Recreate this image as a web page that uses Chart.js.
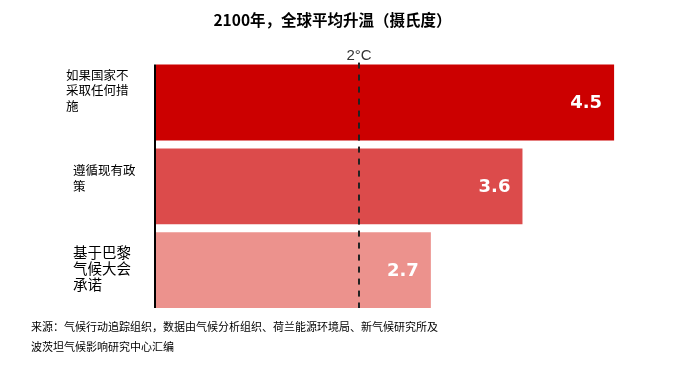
<!DOCTYPE html>
<html>
<head>
<meta charset="utf-8">
<script src="https://cdn.jsdelivr.net/npm/chart.js@4/dist/chart.umd.min.js"></script>
<style>
  html, body { margin: 0; padding: 0; background: #fff; }
  #wrap { width: 696px; height: 383px; position: relative; }
</style>
</head>
<body>
<div id="wrap"><canvas id="c" width="696" height="383"></canvas></div>
<script>
// ---- data ----
const categories = [
  ["如果国家不", "采取任何措", "施"],
  ["遵循现有政", "策"],
  ["基于巴黎", "气候大会", "承诺"]
];
const warming = [4.5, 3.6, 2.7];
const valueLabels = ["4.5", "3.6", "2.7"];
const barColors = ["#CC0000", "#DC4B4B", "#EC928D"];
const thresholdValue = 2;
const thresholdLabel = "2°C";
const titleText = "2100年，全球平均升温（摄氏度）";
const footnoteLines = [
  "来源：气候行动追踪组织，数据由气候分析组织、荷兰能源环境局、新气候研究所及",
  "波茨坦气候影响研究中心汇编"
];

// per-category label styling (drawn with the y scale positions)
const labelStyle = [
  { x: 66, size: 12.5, lh: 15.5, shift: -12 },
  { x: 73, size: 12.5, lh: 16.5, shift: -8 },
  { x: 73, size: 14.5, lh: 16, shift: -2 }
];

const overlay = {
  id: 'overlay',
  afterDatasetsDraw(chart) {
    const ctx = chart.ctx;
    const xs = chart.scales.x, ys = chart.scales.y;
    const meta = chart.getDatasetMeta(0);
    const firstBar = meta.data[0], lastBar = meta.data[meta.data.length - 1];
    const barsTop = firstBar.y - firstBar.height / 2;
    const barsBottom = lastBar.y + lastBar.height / 2;

    // category axis line (spans the bars)
    const ax = xs.getPixelForValue(0) - 1;
    ctx.save();
    ctx.strokeStyle = '#000';
    ctx.lineWidth = 2;
    ctx.beginPath();
    ctx.moveTo(ax, barsTop);
    ctx.lineTo(ax, barsBottom);
    ctx.stroke();
    ctx.restore();

    // value labels inside bar ends
    ctx.save();
    ctx.fillStyle = '#fff';
    ctx.font = 'bold 18px "DejaVu Sans", sans-serif';
    ctx.textAlign = 'right';
    ctx.textBaseline = 'middle';
    meta.data.forEach((bar, i) => {
      ctx.fillText(valueLabels[i], bar.x - 12, bar.y + 1);
    });
    ctx.restore();

    // threshold dashed line
    const tx = Math.round(xs.getPixelForValue(thresholdValue)) - 1;
    const top = barsTop - 2;
    ctx.save();
    ctx.strokeStyle = '#222';
    ctx.lineWidth = 2;
    ctx.setLineDash([6, 6]);
    ctx.beginPath();
    ctx.moveTo(tx, top);
    ctx.lineTo(tx, barsBottom);
    ctx.stroke();
    ctx.restore();

    ctx.save();
    ctx.fillStyle = '#333';
    ctx.font = '15px "Liberation Sans", Arial, sans-serif';
    ctx.textAlign = 'center';
    ctx.textBaseline = 'middle';
    ctx.fillText(thresholdLabel, tx, top - 7);
    ctx.restore();

    // category labels
    ctx.save();
    ctx.fillStyle = '#000';
    ctx.textAlign = 'left';
    ctx.textBaseline = 'middle';
    categories.forEach((lines, i) => {
      const st = labelStyle[i];
      const cy = ys.getPixelForValue(i) + st.shift;
      ctx.font = st.size + 'px "Noto Sans CJK SC", sans-serif';
      const n = lines.length;
      lines.forEach((ln, k) => {
        ctx.fillText(ln, st.x, cy + (k - (n - 1) / 2) * st.lh);
      });
    });
    ctx.restore();

    // footnote
    ctx.save();
    ctx.fillStyle = '#000';
    ctx.font = '11px "Noto Sans CJK SC", sans-serif';
    ctx.textAlign = 'left';
    ctx.textBaseline = 'middle';
    footnoteLines.forEach((ln, k) => {
      ctx.fillText(ln, 31, 327 + k * 20);
    });
    ctx.restore();
  }
};

new Chart(document.getElementById('c'), {
  type: 'bar',
  data: {
    labels: categories,
    datasets: [{
      data: warming,
      backgroundColor: barColors,
      borderWidth: 0,
      barPercentage: 0.905,
      categoryPercentage: 1.0
    }]
  },
  options: {
    indexAxis: 'y',
    responsive: false,
    animation: false,
    devicePixelRatio: 1,
    layout: { padding: { left: 0, right: 31, top: 0, bottom: 71 } },
    plugins: {
      legend: { display: false },
      tooltip: { enabled: false },
      title: {
        display: true,
        text: titleText,
        color: '#000',
        font: { family: '"Noto Sans CJK SC", sans-serif', size: 15.5, weight: 'bold' },
        padding: { top: 11, bottom: 31 }
      }
    },
    scales: {
      x: { display: false, min: 0, max: 5 },
      y: {
        display: true,
        ticks: { display: false },
        grid: { display: false },
        border: { display: false },
        afterFit(scale) { scale.width = 156; }
      }
    }
  },
  plugins: [overlay]
});
</script>
</body>
</html>
